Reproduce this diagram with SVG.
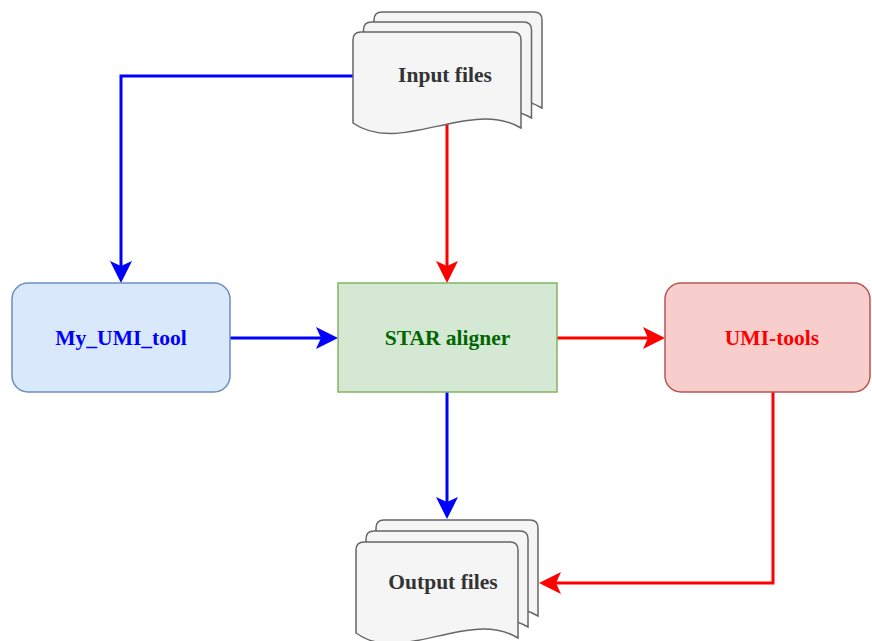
<svg xmlns="http://www.w3.org/2000/svg" width="872" height="641" viewBox="0 0 872 641">
  <style>
    .doc { fill: #f5f5f5; stroke: #666666; stroke-width: 1.5; }
    .lbl { font-family: "Liberation Serif", "Times New Roman", serif; font-weight: bold; font-size: 21.5px; text-anchor: middle; }
    .blue { stroke: #0000ff; stroke-width: 3; fill: none; }
    .red { stroke: #ff0000; stroke-width: 3; fill: none; }
  </style>
  <defs>
    <marker id="ab" viewBox="0 0 22 22" refX="17" refY="11" markerWidth="22" markerHeight="22" markerUnits="userSpaceOnUse" orient="auto">
      <path d="M0,0 L22,11 L0,22 L5,11 Z" fill="#0000ff"/>
    </marker>
    <marker id="ar" viewBox="0 0 22 22" refX="17" refY="11" markerWidth="22" markerHeight="22" markerUnits="userSpaceOnUse" orient="auto">
      <path d="M0,0 L22,11 L0,22 L5,11 Z" fill="#ff0000"/>
    </marker>
    <path id="docIn" d="M0,91 L0,8 Q0,0 8,0 L160,0 Q168,0 168,8 L168,96 C117,66 47,124 0,91 Z"/>
    <path id="docOut" d="M0,91 L0,8 Q0,0 8,0 L154,0 Q162,0 162,8 L162,96 C113,66 45,124 0,91 Z"/>
  </defs>
  <rect width="872" height="641" fill="#ffffff"/>

  <g id="connectors">
    <path class="blue" d="M353,76 L121,76 L121,278" marker-end="url(#ab)"/>
    <path class="red" d="M447,123 L447,278" marker-end="url(#ar)"/>
    <path class="blue" d="M230,338 L333,338" marker-end="url(#ab)"/>
    <path class="red" d="M557,338 L660,338" marker-end="url(#ar)"/>
    <path class="blue" d="M447,392 L447,514" marker-end="url(#ab)"/>
    <path class="red" d="M773,392 L773,583 L544,583" marker-end="url(#ar)"/>
  </g>

  <g id="input-files">
    <use href="#docIn" class="doc" transform="translate(374,12)"/>
    <use href="#docIn" class="doc" transform="translate(363.5,22)"/>
    <use href="#docIn" class="doc" transform="translate(353,32)"/>
    <text class="lbl" x="445" y="82" fill="#333333">Input files</text>
  </g>

  <g id="output-files">
    <use href="#docOut" class="doc" transform="translate(376,520)"/>
    <use href="#docOut" class="doc" transform="translate(366,531)"/>
    <use href="#docOut" class="doc" transform="translate(356,542)"/>
    <text class="lbl" x="443" y="589" fill="#333333">Output files</text>
  </g>

  <g id="my-umi-tool">
    <rect x="12" y="283" width="218" height="109" rx="16" ry="16" fill="#dae8fc" stroke="#6c8ebf" stroke-width="1.5"/>
    <text class="lbl" x="121" y="345" fill="#0000ff">My_UMI_tool</text>
  </g>

  <g id="star-aligner">
    <rect x="338" y="283" width="219" height="109" fill="#d5e8d4" stroke="#82b366" stroke-width="1.5"/>
    <text class="lbl" x="447.5" y="345" fill="#006600">STAR aligner</text>
  </g>

  <g id="umi-tools">
    <rect x="665" y="283" width="205" height="109" rx="16" ry="16" fill="#f8cecc" stroke="#b85450" stroke-width="1.5"/>
    <text class="lbl" x="772" y="345" fill="#ff0000">UMI-tools</text>
  </g>
</svg>
